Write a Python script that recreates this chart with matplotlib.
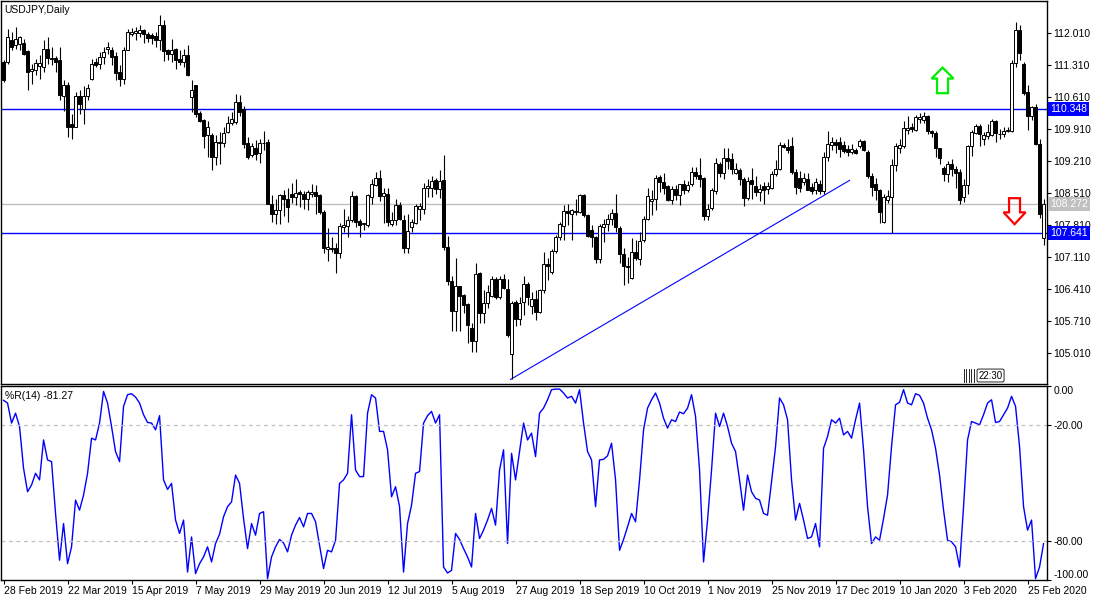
import numpy as np
import matplotlib
matplotlib.use('Agg')
import matplotlib.pyplot as plt
from matplotlib.patches import Polygon
from matplotlib.transforms import blended_transform_factory

# USDJPY daily candles, 28 Feb 2019 .. 2 Mar 2020
opens = [
    111.38, 111.38, 111.87, 111.75, 111.77, 111.80, 111.62, 111.18, 111.21, 111.29,
    111.27, 111.67, 111.48, 111.48, 111.42, 110.63, 110.87, 110.02, 109.97, 110.63,
    110.36, 110.64, 111.02, 111.38, 111.33, 111.49, 111.67, 111.65, 111.51, 111.16,
    111.02, 111.65, 112.00, 112.02, 112.02, 112.09, 111.99, 111.98, 111.96, 111.87,
    112.20, 111.65, 111.55, 111.67, 111.45, 111.38, 111.53, 110.62, 110.87, 110.27,
    110.12, 109.78, 109.78, 109.30, 109.64, 109.60, 109.85, 110.05, 110.07, 110.51,
    110.36, 109.60, 109.34, 109.49, 109.38, 109.61, 109.63, 108.28, 108.06, 108.15,
    108.47, 108.39, 108.49, 108.43, 108.54, 108.50, 108.38, 108.49, 108.54, 108.47,
    108.10, 107.28, 107.30, 107.30, 107.19, 107.77, 107.79, 107.92, 108.44, 107.90,
    107.83, 107.81, 108.43, 108.68, 108.85, 108.44, 108.50, 107.84, 107.92, 108.25,
    107.93, 107.30, 107.77, 107.86, 108.17, 108.17, 108.63, 108.63, 108.79, 108.61,
    108.79, 107.33, 106.58, 105.93, 106.47, 106.28, 106.08, 105.55, 105.27, 106.76,
    105.89, 106.11, 106.26, 106.62, 106.24, 106.64, 106.42, 104.99, 106.13, 105.75,
    106.13, 106.53, 106.04, 106.20, 105.91, 106.39, 106.95, 106.79, 107.25, 107.54,
    107.79, 108.11, 108.06, 108.10, 108.10, 108.46, 108.03, 107.71, 107.54, 107.06,
    107.76, 107.83, 107.95, 108.08, 107.74, 107.17, 106.91, 106.66, 107.23, 107.06,
    107.48, 107.95, 108.34, 108.39, 108.87, 108.76, 108.66, 108.37, 108.61, 108.47,
    108.70, 108.59, 108.72, 108.98, 108.90, 108.85, 108.01, 108.19, 108.56, 109.14,
    108.95, 109.29, 109.25, 108.95, 109.01, 108.81, 108.41, 108.79, 108.66, 108.54,
    108.66, 108.61, 108.63, 108.92, 109.03, 109.56, 109.52, 109.54, 108.98, 108.85,
    108.76, 108.83, 108.65, 108.57, 108.72, 108.56, 109.30, 109.56, 109.63, 109.63,
    109.56, 109.48, 109.42, 109.45, 109.54, 109.65, 109.41, 108.88, 108.72, 108.57,
    107.88, 108.37, 108.43, 109.12, 109.50, 109.54, 109.90, 109.96, 109.90, 110.14,
    110.12, 110.19, 109.87, 109.83, 109.49, 109.06, 108.92, 109.14, 109.05, 108.98,
    108.43, 108.68, 109.54, 109.83, 109.99, 109.70, 109.76, 109.78, 110.10, 109.81,
    109.81, 109.87, 109.87, 111.36, 112.09, 111.33, 110.72, 110.19, 110.40, 109.58,
    107.52,
]
highs = [
    111.42, 112.11, 112.04, 112.15, 111.96, 111.89, 111.64, 111.35, 111.45, 111.53,
    111.86, 111.93, 111.71, 111.51, 111.71, 110.98, 110.94, 110.25, 110.73, 110.78,
    110.85, 110.91, 111.45, 111.48, 111.60, 111.71, 111.82, 111.71, 111.60, 111.31,
    111.71, 112.11, 112.13, 112.15, 112.20, 112.11, 112.04, 112.02, 112.04, 112.42,
    112.31, 111.67, 111.89, 111.70, 111.65, 111.67, 111.75, 110.98, 110.87, 110.32,
    110.14, 110.09, 109.83, 109.78, 109.85, 109.97, 110.21, 110.29, 110.69, 110.67,
    110.41, 109.74, 109.60, 109.68, 109.70, 109.87, 109.70, 108.46, 108.38, 108.49,
    108.57, 108.62, 108.73, 108.81, 108.59, 108.56, 108.57, 108.72, 108.68, 108.49,
    108.15, 107.74, 107.54, 107.42, 107.86, 108.16, 108.00, 108.56, 108.46, 107.95,
    107.86, 108.49, 108.81, 108.97, 109.01, 108.63, 108.63, 108.10, 108.38, 108.32,
    108.03, 108.06, 107.95, 108.28, 108.30, 108.73, 108.83, 108.88, 108.85, 109.01,
    109.34, 107.57, 106.69, 107.08, 106.47, 106.30, 106.11, 105.67, 106.97, 106.79,
    106.39, 106.50, 106.69, 106.68, 106.69, 106.73, 106.62, 106.15, 106.18, 106.24,
    106.69, 106.57, 106.35, 106.39, 106.42, 107.23, 107.10, 107.28, 107.59, 107.88,
    108.24, 108.28, 108.17, 108.39, 108.50, 108.50, 108.06, 107.81, 107.57, 107.84,
    107.95, 108.06, 108.17, 108.49, 107.80, 107.30, 107.12, 107.52, 107.48, 107.66,
    108.01, 108.63, 108.57, 108.90, 108.90, 108.96, 108.68, 108.66, 108.68, 108.72,
    108.79, 108.78, 109.09, 109.09, 109.29, 108.87, 108.28, 108.63, 109.27, 109.19,
    109.49, 109.49, 109.38, 109.17, 109.07, 108.87, 108.87, 109.07, 108.88, 108.70,
    108.76, 108.76, 108.99, 109.23, 109.63, 109.60, 109.70, 109.74, 109.05, 109.00,
    108.96, 108.96, 108.74, 108.85, 108.80, 109.41, 109.88, 109.75, 109.70, 109.74,
    109.66, 109.56, 109.58, 109.50, 109.70, 109.68, 109.45, 108.95, 108.85, 108.60,
    108.50, 108.57, 109.25, 109.60, 109.70, 110.10, 110.20, 110.05, 110.22, 110.26,
    110.28, 110.22, 109.90, 109.87, 109.50, 109.10, 109.22, 109.25, 109.10, 109.05,
    108.83, 109.56, 109.89, 110.03, 110.03, 109.85, 110.03, 110.14, 110.12, 109.92,
    109.96, 109.96, 111.42, 112.26, 112.20, 111.38, 110.87, 110.43, 110.47, 109.70,
    108.39,
]
lows = [
    110.95, 111.35, 111.64, 111.67, 111.65, 111.53, 110.77, 110.91, 111.09, 111.02,
    111.16, 111.35, 111.31, 111.16, 110.54, 110.32, 109.74, 109.70, 109.96, 110.25,
    110.03, 110.54, 110.98, 111.27, 111.24, 111.34, 111.56, 111.31, 110.98, 110.85,
    110.91, 111.64, 111.96, 111.86, 111.93, 111.80, 111.82, 111.78, 111.71, 111.64,
    111.40, 111.42, 111.38, 111.24, 111.31, 111.27, 111.07, 110.29, 110.18, 110.07,
    109.49, 109.30, 109.01, 109.12, 109.15, 109.52, 109.82, 110.00, 110.03, 110.21,
    109.49, 109.25, 109.30, 109.23, 109.16, 109.45, 108.27, 107.88, 107.84, 107.83,
    108.01, 107.88, 108.30, 108.25, 108.21, 108.17, 108.15, 108.43, 108.06, 108.06,
    107.19, 107.03, 107.23, 106.77, 107.10, 107.66, 107.55, 107.88, 107.76, 107.54,
    107.70, 107.76, 108.28, 108.66, 108.34, 107.86, 107.79, 107.79, 107.81, 107.92,
    107.20, 107.20, 107.66, 107.83, 107.92, 108.06, 108.43, 108.43, 108.49, 108.41,
    107.26, 106.50, 105.50, 105.48, 105.48, 105.89, 105.23, 105.04, 105.04, 105.66,
    105.67, 105.99, 106.24, 106.20, 106.20, 106.40, 105.37, 104.43, 105.59, 105.62,
    105.84, 106.06, 105.86, 105.73, 105.89, 106.33, 106.60, 106.74, 107.19, 107.49,
    107.49, 107.81, 107.48, 108.03, 108.08, 107.99, 107.54, 107.33, 106.97, 106.98,
    107.44, 107.68, 107.81, 107.66, 106.97, 106.50, 106.55, 106.64, 107.04, 106.93,
    107.44, 107.92, 108.03, 108.15, 108.54, 108.50, 108.34, 108.28, 108.37, 108.26,
    108.50, 108.54, 108.66, 108.83, 108.65, 107.92, 107.92, 108.15, 108.50, 108.87,
    108.81, 109.05, 108.94, 108.92, 108.68, 108.22, 108.37, 108.39, 108.44, 108.34,
    108.27, 108.50, 108.61, 108.88, 109.01, 109.49, 109.39, 108.94, 108.50, 108.54,
    108.68, 108.57, 108.49, 108.50, 108.49, 108.50, 109.22, 109.45, 109.40, 109.30,
    109.38, 109.32, 109.36, 109.36, 109.50, 109.44, 108.85, 108.45, 108.35, 107.86,
    107.85, 108.30, 107.64, 109.00, 109.40, 109.50, 109.80, 109.85, 109.87, 110.05,
    110.05, 109.80, 109.75, 109.30, 109.15, 108.78, 108.75, 108.88, 108.62, 108.28,
    108.32, 108.50, 109.32, 109.81, 109.54, 109.56, 109.70, 109.76, 109.63, 109.70,
    109.74, 109.85, 109.85, 111.27, 111.42, 110.65, 109.89, 110.11, 109.56, 107.96,
    107.37,
]
closes = [
    110.98, 111.93, 111.72, 111.89, 111.94, 111.56, 111.16, 111.22, 111.36, 111.36,
    111.67, 111.48, 111.44, 111.38, 110.65, 110.87, 109.95, 109.96, 110.63, 110.47,
    110.64, 110.82, 111.35, 111.31, 111.49, 111.60, 111.72, 111.49, 111.14, 111.00,
    111.65, 112.04, 112.05, 112.06, 112.09, 111.99, 111.91, 111.91, 111.87, 112.20,
    111.62, 111.56, 111.65, 111.42, 111.38, 111.53, 111.09, 110.78, 110.25, 110.09,
    109.76, 109.97, 109.30, 109.63, 109.60, 109.83, 110.05, 110.14, 110.51, 110.29,
    109.58, 109.30, 109.54, 109.36, 109.60, 109.60, 108.28, 108.06, 108.14, 108.47,
    108.39, 108.20, 108.43, 108.52, 108.49, 108.39, 108.54, 108.54, 108.44, 108.10,
    107.30, 107.33, 107.28, 107.19, 107.79, 107.81, 107.92, 108.44, 107.88, 107.81,
    107.85, 108.47, 108.72, 108.85, 108.44, 108.52, 107.88, 107.92, 108.25, 107.95,
    107.30, 107.68, 107.88, 108.22, 108.22, 108.63, 108.66, 108.78, 108.61, 108.78,
    107.33, 106.59, 105.93, 106.47, 106.26, 106.06, 105.62, 105.27, 106.75, 105.89,
    106.11, 106.35, 106.62, 106.23, 106.62, 106.44, 105.40, 106.11, 105.75, 106.11,
    106.52, 106.24, 106.20, 105.91, 106.39, 106.95, 106.92, 107.25, 107.54, 107.83,
    108.11, 108.08, 108.14, 108.13, 108.46, 108.03, 107.57, 107.54, 107.06, 107.79,
    107.84, 107.95, 108.08, 107.77, 107.17, 106.91, 106.89, 107.23, 107.08, 107.47,
    107.95, 108.44, 108.39, 108.85, 108.76, 108.63, 108.37, 108.61, 108.47, 108.70,
    108.59, 108.68, 108.98, 108.88, 108.83, 108.01, 108.17, 108.57, 109.16, 108.95,
    109.29, 109.22, 109.05, 109.05, 108.81, 108.41, 108.78, 108.70, 108.54, 108.61,
    108.59, 108.66, 108.92, 109.03, 109.56, 109.52, 109.46, 108.98, 108.65, 108.63,
    108.85, 108.57, 108.56, 108.76, 108.56, 109.30, 109.58, 109.63, 109.56, 109.48,
    109.43, 109.42, 109.48, 109.40, 109.65, 109.46, 108.88, 108.65, 108.57, 108.10,
    108.43, 108.45, 109.12, 109.54, 109.56, 109.94, 109.94, 109.92, 110.18, 110.18,
    110.19, 109.87, 109.83, 109.49, 109.29, 108.92, 109.14, 109.03, 108.95, 108.36,
    108.68, 109.54, 109.85, 109.99, 109.81, 109.78, 109.85, 110.10, 109.83, 109.80,
    109.88, 109.90, 111.36, 112.09, 111.58, 110.70, 110.21, 110.40, 109.58, 108.05,
    108.27,
]

# Williams %R(14)
wpr = [
    -7.4, -8.8, -19.1, -14.0, -20.9, -42.4, -54.5, -51.0, -45.0, -48.4,
    -27.8, -38.1, -39.0, -65.7, -89.8, -70.9, -91.6, -82.9, -58.8, -64.0,
    -56.2, -45.0, -26.9, -27.8, -19.1, -2.8, -8.8, -20.9, -33.8, -39.0,
    -10.5, -4.5, -4.0, -5.7, -8.8, -14.8, -18.8, -19.1, -22.6, -15.3,
    -48.4, -53.3, -50.2, -69.1, -76.0, -69.1, -95.9, -77.8, -96.7, -91.6,
    -88.1, -82.9, -90.7, -81.2, -76.4, -67.4, -62.2, -59.7, -45.9, -50.2,
    -68.3, -83.8, -70.9, -76.9, -65.7, -64.8, -99.3, -88.1, -82.9, -79.1,
    -80.9, -85.5, -76.9, -71.7, -67.8, -72.6, -65.7, -65.7, -70.0, -82.1,
    -94.1, -84.7, -85.5, -79.5, -50.2, -48.4, -45.0, -14.8, -43.3, -46.7,
    -46.7, -14.0, -4.5, -6.2, -23.4, -23.4, -32.9, -57.1, -51.9, -62.2,
    -95.9, -70.9, -61.4, -45.0, -44.1, -19.1, -15.3, -13.1, -19.1, -14.8,
    -93.3, -96.4, -95.0, -76.0, -79.1, -83.8, -88.1, -93.3, -65.7, -78.6,
    -74.3, -69.1, -63.1, -71.7, -43.3, -32.9, -81.2, -34.7, -48.4, -33.8,
    -19.1, -27.8, -24.3, -36.4, -14.0, -11.4, -7.1, -1.9, -1.6, -1.6,
    -3.6, -6.2, -5.3, -8.8, -1.9, -19.1, -33.8, -38.1, -62.2, -38.1,
    -37.8, -36.0, -29.5, -48.4, -84.7, -79.1, -72.6, -65.7, -70.0, -48.4,
    -22.6, -11.4, -7.1, -3.6, -8.8, -16.6, -21.7, -17.4, -18.3, -13.4,
    -14.3, -11.4, -4.5, -15.7, -43.3, -90.7, -69.1, -43.3, -14.0, -20.9,
    -14.0, -20.9, -29.5, -33.8, -48.4, -64.0, -45.9, -54.5, -57.9, -58.8,
    -65.7, -66.6, -49.3, -31.2, -6.2, -9.7, -17.4, -48.4, -69.1, -60.5,
    -69.1, -78.6, -77.8, -70.9, -82.9, -32.1, -26.0, -17.4, -19.1, -16.6,
    -25.2, -23.4, -26.9, -17.4, -8.8, -32.9, -62.2, -81.2, -77.8, -79.5,
    -68.3, -56.2, -31.2, -9.7, -8.4, -1.9, -8.8, -9.7, -4.0, -4.8,
    -8.8, -16.6, -22.6, -32.1, -45.9, -64.0, -79.5, -80.3, -82.9, -93.3,
    -62.2, -27.8, -18.3, -19.1, -20.0, -14.8, -8.8, -7.1, -18.8, -18.3,
    -14.8, -11.4, -5.3, -10.5, -31.2, -62.2, -74.3, -69.1, -99.3, -93.3,
    -81.27,
]

date_labels = ['28 Feb 2019', '22 Mar 2019', '15 Apr 2019', '7 May 2019', '29 May 2019',
               '20 Jun 2019', '12 Jul 2019', '5 Aug 2019', '27 Aug 2019', '18 Sep 2019',
               '10 Oct 2019', '1 Nov 2019', '25 Nov 2019', '17 Dec 2019', '10 Jan 2020',
               '3 Feb 2020', '25 Feb 2020']
date_bars = list(range(0, 257, 16))

price_ticks = [105.01, 105.71, 106.41, 107.11, 107.81, 108.51, 109.21, 109.91, 110.61, 111.31, 112.01]
levels = [110.348, 107.641]
bid = 108.272
trend_start = (126.75, 104.43)
trend_end = (211.5, 108.79)

plt.rcParams['font.family'] = ['Liberation Sans', 'DejaVu Sans']
FS = 7.5

fig = plt.figure(figsize=(11, 6), dpi=100)
ax = fig.add_axes([0.0005, 216 / 600, 1046 / 1100, 383.5 / 600])
ax2 = fig.add_axes([0.0005, 20 / 600, 1046 / 1100, 194 / 600])

x = np.arange(len(closes))
o = np.array(opens)
c = np.array(closes)
h = np.array(highs)
l = np.array(lows)

# __________________________________________________________________________
# PRICE PANEL
ax.vlines(x, l, h, color='black', linewidth=0.8, zorder=2)
bottoms = np.minimum(o, c)
heights = np.maximum(np.abs(c - o), 0.006)
fills = ['white' if cc >= oo else 'black' for oo, cc in zip(o, c)]
ax.bar(x, heights, bottom=bottoms, width=0.72, color=fills, edgecolor='black',
       linewidth=0.7, zorder=3)

for lv in levels:
    ax.axhline(lv, color='#0000ff', linewidth=1.0, zorder=1)
ax.axhline(bid, color='#c0c0c0', linewidth=1.0, zorder=1)
ax.plot([trend_start[0], trend_end[0]], [trend_start[1], trend_end[1]],
        color='#0000ff', linewidth=0.8, zorder=1)

# hollow arrows
up = [(234.75, 111.26), (237.5, 111.02), (236.125, 111.02), (236.125, 110.70),
      (233.375, 110.70), (233.375, 111.02), (232.0, 111.02)]
down = [(252.75, 107.83), (255.5, 108.09), (254.125, 108.09), (254.125, 108.40),
        (251.375, 108.40), (251.375, 108.09), (250.0, 108.09)]
ax.add_patch(Polygon(up, closed=True, fill=False, edgecolor='#00ee00', linewidth=1.6, zorder=4))
ax.add_patch(Polygon(down, closed=True, fill=False, edgecolor='#ff0000', linewidth=1.6, zorder=4))

ax.set_xlim(-0.75, 260.75)
ax.set_ylim(104.33, 112.73)
ax.set_xticks([])
ax.yaxis.tick_right()
ax.set_yticks(price_ticks)
ax.set_yticklabels(['%.3f' % t for t in price_ticks])
ax.tick_params(axis='y', direction='out', length=3, width=0.8, labelsize=FS, pad=2)
for s in ax.spines.values():
    s.set_color('black')
    s.set_linewidth(1.0)

trans = blended_transform_factory(ax.transAxes, ax.transData)
for val, bg in [(110.348, '#0000ff'), (bid, '#c0c0c0'), (107.641, '#0000ff')]:
    ax.text(1.0035, val, '%.3f' % val, transform=trans, color='white', fontsize=FS,
            va='center', ha='left', clip_on=False, zorder=10,
            bbox=dict(boxstyle='square,pad=0.2', fc=bg, ec='none'))

ax.text(0.004, 0.988, 'USDJPY,Daily', transform=ax.transAxes, va='top', ha='left', fontsize=FS)

# small "22:30" marker at the bottom right
for px in [963, 965.5, 968, 970.5, 973]:
    ax.plot([px / 1046, px / 1046], [2 / 384, 15 / 384], transform=ax.transAxes,
            color='black', linewidth=0.6, clip_on=False)
ax.text(990 / 1046, 8.5 / 384, '22:30', transform=ax.transAxes, fontsize=7,
        va='center', ha='center',
        bbox=dict(boxstyle='round,pad=0.15', fc='white', ec='black', lw=0.6))

# __________________________________________________________________________
# %R PANEL
ax2.plot(x, wpr, color='#0000ff', linewidth=1.0)
for lv in [-20, -80]:
    ax2.axhline(lv, color='#c0c0c0', linewidth=0.9, linestyle=(0, (3, 3)))
ax2.set_xlim(-0.75, 260.75)
ax2.set_ylim(-100, 0)
ax2.yaxis.tick_right()
ax2.set_yticks([0, -20, -80, -100])
ax2.set_yticklabels(['0.00', '-20.00', '-80.00', '-100.00'])
ax2.tick_params(axis='y', direction='out', length=3, width=0.8, labelsize=FS, pad=2)
ylabs = ax2.get_yticklabels()
ylabs[0].set_va('top')
ylabs[-1].set_va('bottom')
ax2.set_xticks(date_bars)
ax2.set_xticklabels(date_labels)
ax2.tick_params(axis='x', direction='out', length=3, width=0.8, labelsize=FS, pad=1)
for lab in ax2.get_xticklabels():
    lab.set_ha('left')
for s in ax2.spines.values():
    s.set_color('black')
    s.set_linewidth(1.0)
ax2.text(0.004, 0.975, '%R(14) -81.27', transform=ax2.transAxes, va='top', ha='left', fontsize=FS)

fig.savefig('out.png', dpi=100, facecolor='white')
plt.close(fig)
